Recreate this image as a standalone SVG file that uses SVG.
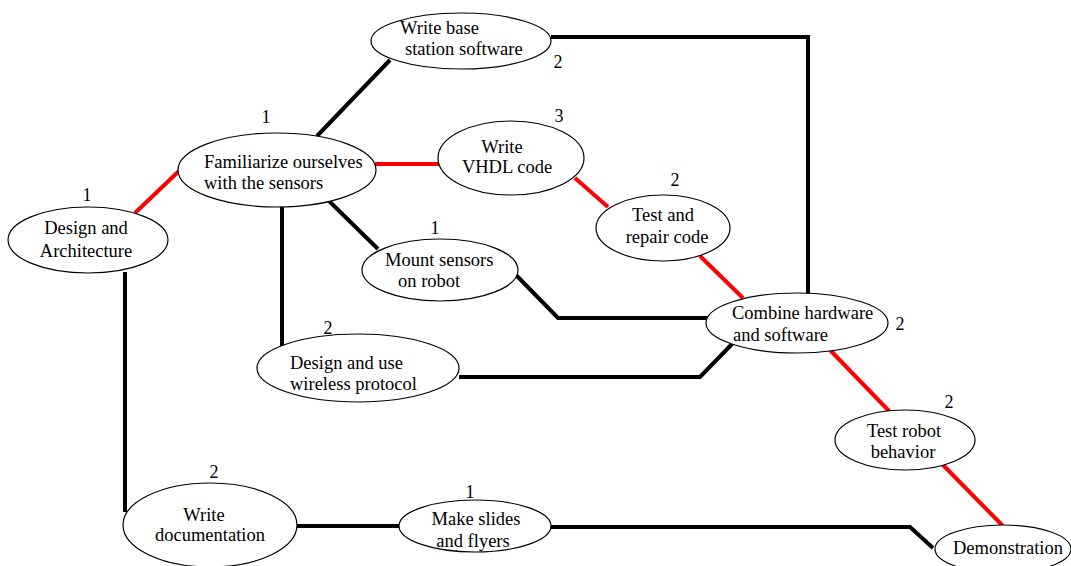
<svg xmlns="http://www.w3.org/2000/svg" width="1071" height="566" viewBox="0 0 1071 566" font-family="'Liberation Serif', 'DejaVu Serif', serif">
  <style>
    .task { fill: #ffffff; stroke: #000000; stroke-width: 1.2; }
    text { font-family: 'Liberation Serif', 'DejaVu Serif', serif; fill: #000000; }
    .lbl { font-size: 18.5px; }
    .mid { text-anchor: middle; }
    .dur { font-size: 18px; text-anchor: middle; }
    .link { fill: none; stroke: #000000; stroke-width: 4; stroke-linejoin: miter; }
    .crit { fill: none; stroke: #ff0000; stroke-width: 4; }
  </style>
  <rect width="1071" height="566" fill="#ffffff"/>

  <!-- dependency links (red = critical path) -->
  <g id="connectors">
    <line class="crit" x1="135" y1="213" x2="180" y2="170"/>
    <line class="crit" x1="375" y1="164" x2="440" y2="164"/>
    <line class="crit" x1="575" y1="178" x2="608" y2="207"/>
    <line class="crit" x1="700" y1="256" x2="743" y2="298"/>
    <line class="crit" x1="830" y1="350" x2="890" y2="412"/>
    <line class="crit" x1="943" y1="465" x2="1003" y2="526"/>
    <line class="link" x1="317" y1="136" x2="390" y2="60"/>
    <polyline class="link" points="551,37 808,37 808,295"/>
    <line class="link" x1="328" y1="200" x2="378" y2="249"/>
    <polyline class="link" points="516,275 558,318 708,318"/>
    <line class="link" x1="282" y1="206" x2="282" y2="348"/>
    <polyline class="link" points="459,377 700,377 732,344"/>
    <line class="link" x1="125" y1="272" x2="125" y2="512"/>
    <line class="link" x1="296" y1="526" x2="400" y2="526"/>
    <polyline class="link" points="550,527 910,527 933,548"/>
  </g>

  <g id="design-architecture">
    <ellipse class="task" cx="88" cy="240" rx="80" ry="33"/>
    <text class="lbl mid" x="86" y="234">Design and</text>
    <text class="lbl mid" x="86" y="257">Architecture</text>
    <text class="dur" x="87" y="201">1</text>
  </g>

  <g id="familiarize">
    <ellipse class="task" cx="277" cy="170" rx="99" ry="37"/>
    <text class="lbl" x="204" y="168">Familiarize ourselves</text>
    <text class="lbl" x="204" y="189">with the sensors</text>
    <text class="dur" x="266" y="123">1</text>
  </g>

  <g id="base-station">
    <ellipse class="task" cx="461" cy="41" rx="90" ry="28"/>
    <text class="lbl" x="400" y="34">Write base</text>
    <text class="lbl" x="405" y="55">station software</text>
    <text class="dur" x="558" y="68">2</text>
  </g>

  <g id="vhdl">
    <ellipse class="task" cx="511" cy="158" rx="73" ry="37"/>
    <text class="lbl mid" x="502" y="153">Write</text>
    <text class="lbl mid" x="507" y="173">VHDL code</text>
    <text class="dur" x="559" y="122">3</text>
  </g>

  <g id="test-repair">
    <ellipse class="task" cx="663" cy="228" rx="67" ry="33"/>
    <text class="lbl mid" x="663" y="221">Test and</text>
    <text class="lbl mid" x="667" y="243">repair code</text>
    <text class="dur" x="675" y="186">2</text>
  </g>

  <g id="mount-sensors">
    <ellipse class="task" cx="440" cy="270" rx="78" ry="31"/>
    <text class="lbl" x="385" y="266">Mount sensors</text>
    <text class="lbl" x="398" y="287">on robot</text>
    <text class="dur" x="435" y="234">1</text>
  </g>

  <g id="wireless">
    <ellipse class="task" cx="358" cy="368" rx="101" ry="34"/>
    <text class="lbl" x="290" y="369">Design and use</text>
    <text class="lbl" x="290" y="390">wireless protocol</text>
    <text class="dur" x="328" y="334">2</text>
  </g>

  <g id="combine">
    <ellipse class="task" cx="797" cy="323" rx="91" ry="30"/>
    <text class="lbl" x="732" y="319">Combine hardware</text>
    <text class="lbl" x="733" y="341">and software</text>
    <text class="dur" x="900" y="330">2</text>
  </g>

  <g id="test-robot">
    <ellipse class="task" cx="905" cy="440" rx="70" ry="30"/>
    <text class="lbl mid" x="904" y="437">Test robot</text>
    <text class="lbl mid" x="903" y="458">behavior</text>
    <text class="dur" x="949" y="408">2</text>
  </g>

  <g id="demonstration">
    <ellipse class="task" cx="1003" cy="549" rx="68" ry="24"/>
    <text class="lbl" x="953" y="554">Demonstration</text>
  </g>

  <g id="documentation">
    <ellipse class="task" cx="210" cy="525" rx="87" ry="42"/>
    <text class="lbl mid" x="204" y="521">Write</text>
    <text class="lbl mid" x="210" y="541">documentation</text>
    <text class="dur" x="214" y="478">2</text>
  </g>

  <g id="slides">
    <ellipse class="task" cx="475" cy="526" rx="76" ry="26"/>
    <text class="lbl mid" x="476" y="525">Make slides</text>
    <text class="lbl mid" x="473" y="547">and flyers</text>
    <text class="dur" x="470" y="498">1</text>
  </g>
</svg>
